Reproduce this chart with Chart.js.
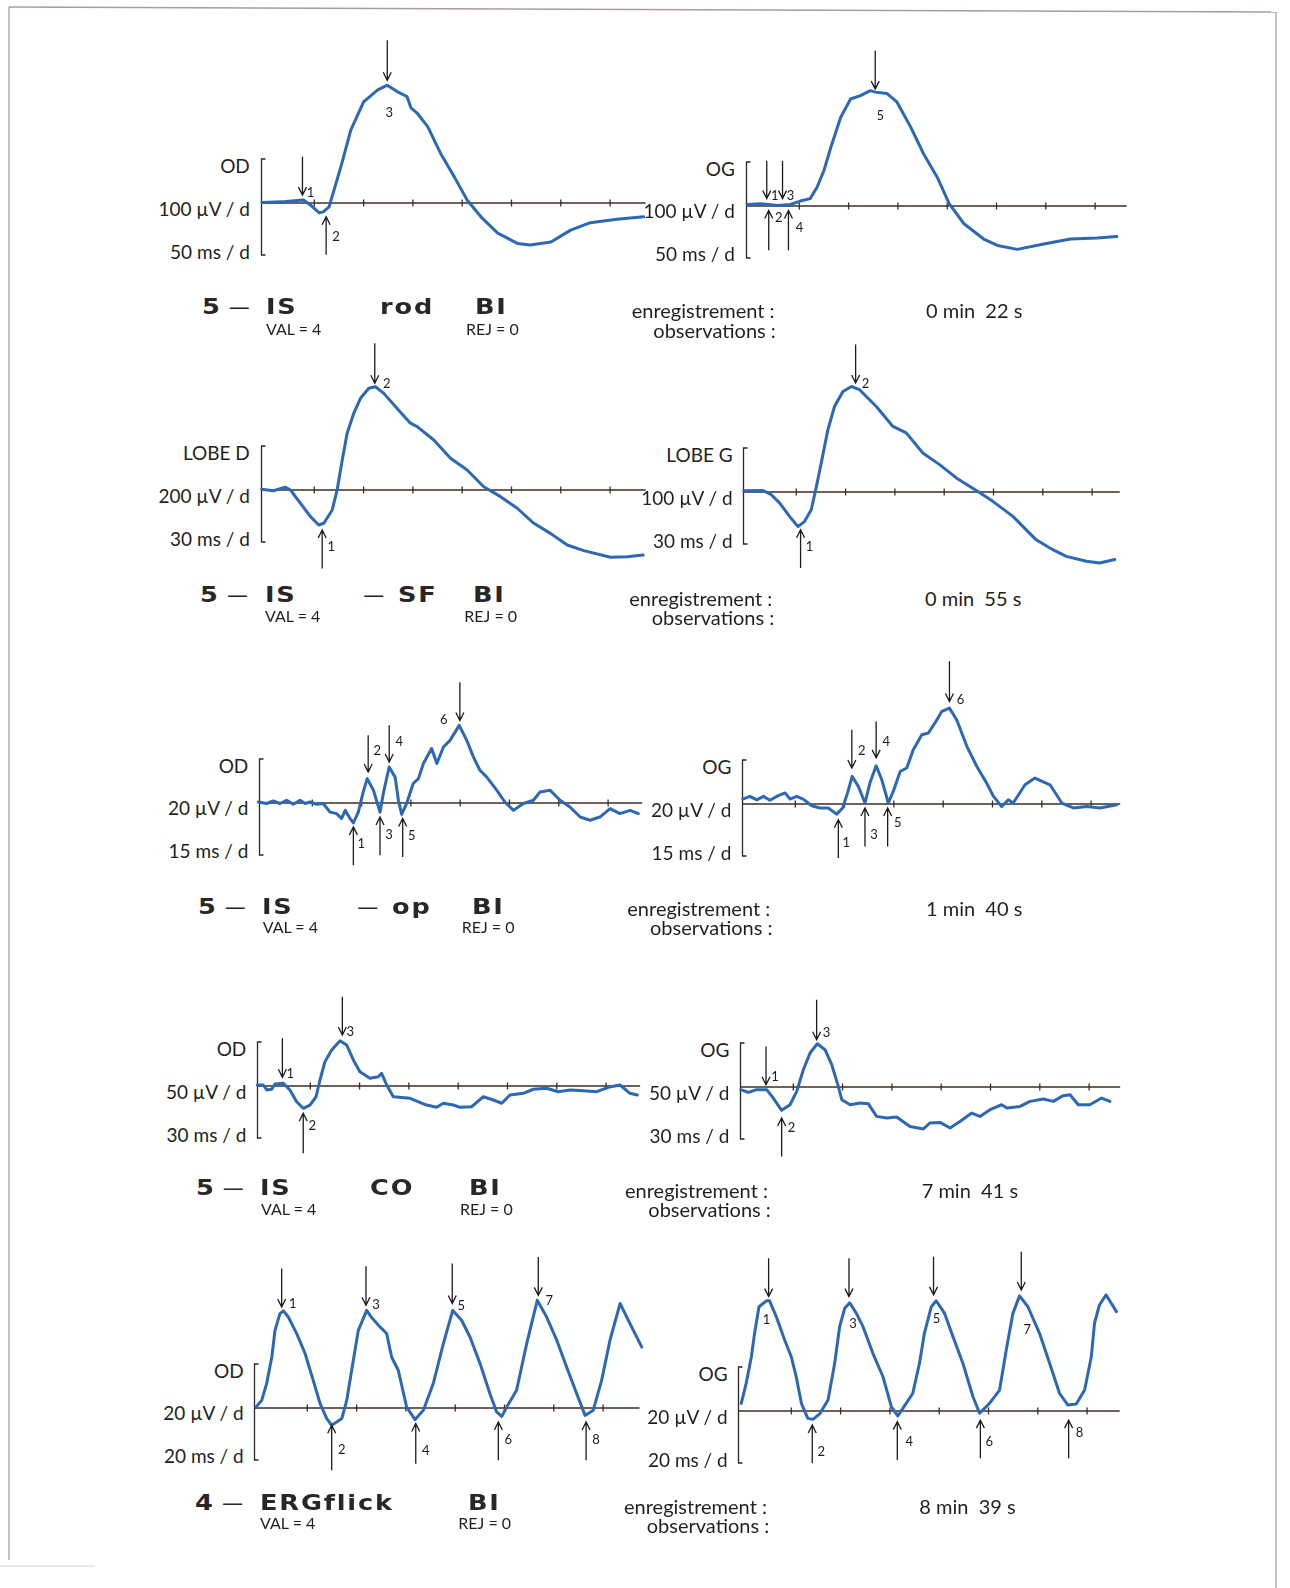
<!DOCTYPE html>
<html lang="fr">
<head>
<meta charset="utf-8">
<title>ERG — protocole IS</title>
<script src="https://cdn.jsdelivr.net/npm/chart.js@4.4.1/dist/chart.umd.min.js"></script>
<style>
  html, body { margin: 0; padding: 0; background: #fff; }
  body { width: 1290px; height: 1588px; position: relative; overflow: hidden;
         font-family: Lato, "Open Sans", sans-serif; color: #231f20; }
  canvas.trace { position: absolute; }
  .t { position: absolute; white-space: pre; line-height: 1; transform: translateY(-50%); }
  .scale { font-size: 19px; }
  .big { font-family: "DejaVu Sans", sans-serif; font-weight: bold; font-size: 21px; letter-spacing: 1.5px;
         color: #2a2626; transform: translateY(-50%) scaleX(1.22); transform-origin: left center; }
  .dash { font-family: "DejaVu Sans", sans-serif; font-size: 21px; color: #2a2626; }
  .small { font-size: 16px; }
  .rec { font-size: 20px; }
</style>
</head>
<body>
<svg width="1290" height="1588" style="position:absolute;left:0;top:0">
  <line x1="9" y1="7" x2="1276" y2="12" stroke="#a89aa8" stroke-width="1.5"/>
  <line x1="9" y1="7" x2="9" y2="1560" stroke="#8a8a8a" stroke-width="1"/>
  <line x1="1276" y1="12" x2="1276" y2="1588" stroke="#97a097" stroke-width="1.2"/>
  <line x1="0" y1="1566" x2="95" y2="1566" stroke="#cfcfcf" stroke-width="1"/>
</svg>
<script>
// ---------- Recording conditions (row by row: right eye, left eye) ----------
const traceEyes   = ['OD', 'OG', 'LOBE D', 'LOBE G', 'OD', 'OG', 'OD', 'OG', 'OD', 'OG'];
const voltsPerDiv = [100, 100, 200, 100, 20, 20, 50, 50, 20, 20];   // µV per division
const timePerDiv  = [50, 50, 30, 30, 15, 15, 30, 30, 20, 20];       // ms per division

// ---------- Protocol captions, one per row ----------
const protocolNo   = ['5', '5', '5', '5', '4'];
const protocolName = ['IS', 'IS', 'IS', 'IS', 'ERGflick'];
const stimulusName = ['rod', '— SF', '— op', 'CO', ''];
const valCount     = [4, 4, 4, 4, 4];
const rejCount     = [0, 0, 0, 0, 0];
const recordTime   = ['0 min  22 s', '0 min  55 s', '1 min  40 s', '7 min  41 s', '8 min  39 s'];

// ---------- Traces: time (ms) and amplitude (µV) ----------
// Marks: [time ms, arrow tip µV, arrow tail µV, wave number]
const rodOdMs = [-3, 11, 21, 33, 39, 46, 55, 59, 65, 70, 78, 87, 100, 114, 124, 134, 144, 148, 154, 165, 178, 192, 205, 219, 236, 256, 269, 290, 310, 330, 357, 384];
const rodOdUv = [1, 2, 3, 5, 6, -4, -20, -18, -8, 26, 81, 148, 205, 229, 239, 226, 216, 193, 183, 155, 101, 53, 6, -28, -61, -82, -85, -79, -55, -40, -33, -28];
const rodOdMarks = [[38, 16, 94, 1], [62, -28, -105, 2], [124, 249, 330, 3]];

const rodOgMs = [-3, 11, 28, 41, 51, 61, 68, 75, 82, 92, 102, 112, 122, 127, 139, 149, 163, 176, 190, 202, 217, 237, 251, 271, 298, 325, 352, 372];
const rodOgUv = [3, 4.5, 1, 3, 10, 15, 38, 72, 119, 180, 217, 224, 234, 231, 228, 211, 160, 106, 58, 5, -36, -67, -80, -88, -77, -67, -65, -62];
const rodOgMarks = [[17, 15, 92, 1], [19, -9, -90, 2], [33, 15, 92, 3], [39, -9, -90, 4], [127, 237, 315, 5]];

const lobeDMs = [-2, 5, 12.5, 15.5, 21.6, 27.7, 32.7, 35.8, 40.9, 43.9, 47, 50, 54, 58.1, 63.2, 67.2, 72.3, 80.4, 88.5, 92.6, 102.7, 112.9, 123, 133.1, 143.3, 153.5, 163.6, 173.7, 183.9, 194, 210.2, 220.4, 230.1];
const lobeDUv = [3, -3, 11, 0, -54, -108, -142, -135, -81, 0, 122, 230, 311, 372, 413, 419, 392, 331, 271, 257, 203, 129, 81, 13, -27, -74, -135, -176, -223, -246, -273, -271, -264];
const lobeDMarks = [[34.8, -162, -318, 1], [66.8, 433, 595, 2]];

const lobeGMs = [-2, 9.7, 14.8, 19.8, 25.9, 31, 35, 39.1, 42.2, 45.2, 49.2, 53.3, 58.4, 63.5, 68.5, 78.7, 88.8, 96.9, 107, 117.2, 127.4, 140.5, 149.6, 161.8, 176, 186.1, 194.3, 206.5, 214.6, 223.8];
const lobeGUv = [2.6, 3, -5.5, -22, -49.5, -70, -60, -36, 11, 59, 126, 174, 204, 214, 207.5, 173.5, 133, 120, 79, 55.5, 28.5, 1, -19, -49.5, -97, -117, -130.5, -140.5, -144, -137];
const lobeGMarks = [[32.6, -76.5, -154, 1], [66.1, 221, 299, 2]];

const opOdMs = [-1.4, 1.1, 3.1, 5.2, 7.2, 9.2, 11.3, 12.8, 14.3, 16.3, 18.3, 20.4, 22.4, 23.9, 25, 26.5, 27.5, 29, 30.5, 31.7, 33.6, 35.6, 36.6, 37.6, 38.4, 40.2, 41.2, 42.2, 43.7, 45.7, 47.3, 48.8, 51.3, 52.9, 54.9, 56.9, 59.7, 62, 64, 66, 68.1, 71.1, 73.6, 76.2, 79.2, 82.3, 84.3, 87.3, 90.4, 93.4, 96.5, 99.5, 102.5, 105.6, 108.6, 111.7, 114.2];
const opOdUv = [0.4, -0.2, 0.8, -0.2, 1.1, -0.5, 1.1, -0.2, 0.4, -0.5, -0.2, -3.7, -4.3, -6.3, -3, -6.3, -8.1, -3.7, 4.5, 9.9, 5.2, -3.7, 3.8, 9.9, 14.6, 10.5, 1.1, -4.6, -0.2, 7.9, 9.9, 16, 22.1, 16, 22.7, 25.4, 31.5, 25.4, 18.7, 13.3, 10.5, 5.2, 0.4, -3, -0.2, 1.1, 4.5, 5.2, 1.1, -1.6, -5.7, -7, -5.7, -2.3, -4.3, -3, -4.3];
const opOdMarks = [[27.5, -9.7, -25.3, 1], [32, 12.6, 27.5, 2], [35.6, -5.7, -21.2, 3], [38.4, 16.6, 31.5, 4], [42.5, -6.3, -21.9, 5], [59.9, 33.5, 49, 6]];

const opOgMs = [-1, 1.2, 3.3, 5.3, 7.3, 9.8, 11.9, 13.4, 15.4, 17.4, 20, 22.5, 25, 27.6, 29.4, 30.9, 32.3, 34.2, 36.2, 37.7, 39.6, 41.3, 43.3, 44.8, 46.9, 48.9, 50.9, 53.5, 55.5, 57.5, 59.6, 61.9, 64.1, 67.2, 70.2, 73.2, 75.3, 77.8, 79.8, 81.3, 84.9, 87.9, 92.5, 96.1, 99.6, 103.7, 107.7, 112.8];
const opOgUv = [2, 3.1, 1.7, 3.1, 1.5, 3.4, 4.5, 2, 3.1, 2, -0.7, -1.6, -1.6, -4.1, -1.6, 4.5, 11.2, 7.1, 0.4, 8.5, 15.5, 9.9, 0.4, 5.1, 13.2, 14.6, 22, 28.1, 28.8, 32.9, 37.6, 38.9, 34.2, 23.4, 15.3, 8.5, 3.1, -1, 1.7, 0.4, 7.8, 10.5, 7.8, 0.4, -1.6, -1, -1.6, -0.3];
const opOgMarks = [[28.1, -6.4, -21.9, 1], [32.2, 14.6, 30.1, 2], [36.2, -1.6, -17.2, 3], [39.6, 18.7, 33.5, 4], [43.1, -1.6, -17.2, 5], [61.9, 41.6, 57.9, 6]];

const coOdMs = [-2.3, 1.4, 3.5, 6.5, 8.5, 13.6, 17.6, 21.7, 25.7, 29.8, 33.5, 35.9, 38.9, 43, 48.1, 52.1, 56.2, 60.2, 66.3, 71.4, 73.4, 76.5, 80.5, 90.7, 100.8, 106.9, 110.9, 117, 121.1, 128.2, 135.3, 141.4, 146.5, 151.5, 159.6, 165.7, 173.8, 180.9, 188, 196.1, 204.3, 211.3, 218.5, 224.5, 229];
const coOdUv = [1, 1, -4, -3.3, 2, 2.7, -4, -16, -22.6, -19.3, -10.9, 6.1, 24.6, 36.5, 45.9, 41.6, 26.4, 14.5, 7.8, 9.4, 12.9, 1, -10.9, -12.5, -19.3, -21.6, -17.5, -19.3, -21.6, -21, -10.9, -14.2, -17.5, -9.1, -7.4, -3.3, -2.3, -5.8, -4.1, -4.8, -5.8, -1.3, 1, -7.4, -9.1];
const coOdMarks = [[13, 8.8, 48.4, 1], [25.7, -27.7, -68.3, 2], [49.5, 51.7, 90.6, 3]];

const coOgMs = [-2, 2.6, 7.7, 13.8, 17.8, 22.9, 28, 32.1, 36.1, 40.2, 44.6, 49.3, 53.4, 57.4, 59.5, 64.6, 70.6, 75.6, 80.7, 86.8, 92.9, 101, 109.1, 113.2, 119.3, 125.4, 131.4, 138.6, 143.6, 149.7, 156.8, 159.9, 168, 174, 182.1, 188.2, 194.3, 198.4, 203.4, 210.5, 217.6, 222.7];
const coOgUv = [-2.7, -5.5, -2.7, -2.7, -11.2, -23.7, -18, -4.5, 17.5, 34.5, 43.9, 37.8, 22.6, 0.6, -12.9, -18, -16.2, -16.9, -29.8, -31.4, -30.4, -40, -42.6, -36.5, -35.9, -41.6, -34.9, -26.4, -29.8, -23, -18, -21.3, -19.7, -14.6, -12.2, -14.6, -8.8, -7.8, -18, -18, -11.2, -14.6];
const coOgMarks = [[13.4, 2.3, 41.2, 1], [22.9, -31.4, -70.4, 2], [44.2, 48, 88.5, 3]];

const flickOdMs = [-0.8, 1.5, 3.5, 5.6, 6.9, 8.9, 10.3, 12.3, 15.7, 19.1, 22.4, 25.2, 27.9, 29.9, 31.9, 34, 36, 38, 40.7, 44.1, 46.1, 49.5, 52.2, 54.2, 56.9, 60.3, 63.7, 67.1, 71.1, 75.2, 79, 82.6, 86, 90.1, 94.1, 96.8, 98.9, 100.9, 104.9, 109, 113.3, 117.1, 121.2, 125.2, 129.3, 132.7, 136, 139.4, 142.8, 146.9, 150.9, 155.7];
const flickOdUv = [0.4, 3.1, 9.9, 20.7, 31.5, 38.3, 39.4, 36.9, 30.2, 22.1, 11.2, 1.8, -4.3, -7, -5.7, -4.3, 3.1, 15.3, 31.5, 39.6, 36.7, 32.9, 30.2, 20.7, 15.3, 0.4, -4.7, -0.9, 9.9, 26.1, 39.6, 35.6, 28.8, 18, 5.8, -1.6, -3.4, 0.4, 7.2, 26.1, 43.7, 36.9, 27.5, 16.6, 5.8, -3, -0.9, 11.2, 27.5, 42.4, 34.2, 24.7];
const flickOdMarks = [[9.6, 41, 56.6, 1], [29.9, -7, -25.3, 2], [43.8, 41.7, 57.5, 3], [64, -6.3, -22.6, 4], [78.8, 42.4, 58.6, 5], [97.5, -5.7, -21.2, 6], [113.7, 45.7, 61.3, 7], [133.1, -5.7, -21.2, 8]];

const flickOgMs = [-0.3, 1.7, 3.8, 5.1, 6.9, 9.9, 11.2, 13.9, 17.3, 20, 22, 24.1, 26.7, 28.8, 31.5, 34.9, 37.6, 39.6, 41.7, 43.7, 46.4, 49.1, 53.1, 57.2, 60.6, 63.2, 66.6, 69.3, 72, 74, 76.8, 78.8, 82.2, 85.6, 89.6, 93.7, 96.4, 100.4, 104.5, 107.2, 109.9, 112.6, 116, 120.7, 124.8, 128.8, 132.2, 135.6, 139, 141.7, 143, 145, 147.7, 149.8, 151.9];
const flickOgUv = [3.1, 11.2, 22, 31.5, 42.3, 44.7, 44.7, 38.3, 28.8, 22, 13.9, 3.1, -3, -3.4, -1.2, 4.5, 19.4, 34.2, 41.7, 43.9, 39.6, 34.2, 23.4, 13.9, 1.7, -2, 3.1, 7.2, 19.4, 31.5, 42.3, 44.7, 39.6, 30.1, 19.4, 5.8, -0.9, 3.1, 8.5, 24.7, 39.6, 46.7, 42.3, 31.5, 19.4, 7.2, 2.4, 2.8, 8.5, 22, 35.6, 43, 47.1, 43.7, 40.3];
const flickOgMarks = [[10.8, 46.4, 62, 1], [28.5, -5.7, -21.2, 2], [43.4, 46.4, 62, 3], [63, -4.3, -19.9, 4], [77.7, 47.1, 62.6, 5], [96.7, -3.7, -19.2, 6], [113.3, 49.1, 64.6, 7], [132.5, -3.7, -19.2, 8]];

const traces = [
  [rodOdMs, rodOdUv, rodOdMarks], [rodOgMs, rodOgUv, rodOgMarks],
  [lobeDMs, lobeDUv, lobeDMarks], [lobeGMs, lobeGUv, lobeGMarks],
  [opOdMs, opOdUv, opOdMarks],    [opOgMs, opOgUv, opOgMarks],
  [coOdMs, coOdUv, coOdMarks],    [coOgMs, coOgUv, coOgMarks],
  [flickOdMs, flickOdUv, flickOdMarks], [flickOgMs, flickOgUv, flickOgMarks]
];

// ---------- Page layout (pixels) ----------
const PX_PER_DIV = 49.3;
const PAD_L = 14, PAD_T = 185, CV_W = 404, CV_H = 275;
const TRACE_BLUE = '#2d68b2';
const INK = '#1f1b1b';
// origin of each graph (t = 0, 0 µV), axis length in divisions, numeral offsets from arrow tips
const panelLayout = [
  { x0: 264.5, y0: 203,    len: 7.72, off: [[8, -2], [10, 20], [2, 33]] },
  { x0: 749.5, y0: 205.5,  len: 7.64, off: [[8, -3], [10, 7], [8, -3], [11, 17], [5, 27]] },
  { x0: 264.5, y0: 490,    len: 7.72, off: [[9, 17], [12, 1]] },
  { x0: 747.4, y0: 492.3,  len: 7.56, off: [[9, 17], [10, 1]] },
  { x0: 263,   y0: 802.7,  len: 7.69, off: [[8, 17], [9, -21], [9, 18], [10, -20], [9, 17], [-16, -1]] },
  { x0: 746,   y0: 804.3,  len: 7.59, off: [[8, 23], [10, -17], [9, 27], [10, -16], [10, 15], [11, -2]] },
  { x0: 261,   y0: 1086,   len: 7.69, off: [[8, -4], [9, 13], [8, -3]] },
  { x0: 744,   y0: 1087.3, len: 7.63, off: [[9, -8], [10, 10], [10, -7]] },
  { x0: 258.4, y0: 1407.7, len: 7.74, off: [[11, -3], [10, 25], [10, 0], [10, 27], [9, 2], [10, 18], [11, 5], [10, 18]] },
  { x0: 742.4, y0: 1411,   len: 7.66, off: [[-2, 23], [9, 27], [4, 27], [12, 20], [3, 24], [9, 22], [6, 40], [11, 13]] }
];
// caption block of each row
const captionLayout = [
  { num: 201.7, stim: 380,   bi: 475,   val: 266,   rej: 466,   enr: 631.7, obs: 653.3, time: 926,   yBig: 306.7,  ySmall: 329,    yEnr: 310,    yObs: 330 },
  { num: 200,   stim: 363.3, bi: 473.3, val: 265,   rej: 464.3, enr: 629.3, obs: 651.7, time: 925,   yBig: 595,    ySmall: 616,    yEnr: 598.3,  yObs: 617.3 },
  { num: 197.7, stim: 357.3, bi: 471.7, val: 262.7, rej: 461.7, enr: 627.3, obs: 650,   time: 926,   yBig: 906.7,  ySmall: 926.7,  yEnr: 908.3,  yObs: 927.3 },
  { num: 195.7, stim: 370,   bi: 469.3, val: 261,   rej: 460,   enr: 625,   obs: 648.3, time: 921.7, yBig: 1188.3, ySmall: 1209.3, yEnr: 1190,   yObs: 1209.3 },
  { num: 195,   stim: 0,     bi: 468.3, val: 260,   rej: 458.3, enr: 624,   obs: 646.7, time: 919.3, yBig: 1503.3, ySmall: 1523.3, yEnr: 1506,   yObs: 1525 }
];

function addText(str, cls, x, cy, alignRight) {
  const d = document.createElement('div');
  d.className = 't ' + cls;
  d.textContent = str;
  if (alignRight) d.style.right = (1290 - x) + 'px';
  else d.style.left = x + 'px';
  d.style.top = cy + 'px';
  document.body.appendChild(d);
}

// Baseline with division ticks, calibration bracket, and latency arrows
function ergPlugin(lay, marks) {
  return {
    id: 'ergMarks',
    beforeDatasetsDraw(chart) {
      const { ctx, scales: { x, y } } = chart;
      const y0 = y.getPixelForValue(0);
      const ox = x.getPixelForValue(0);
      const div = chart.options.ergDiv;
      const bx = ox - 3.5;
      ctx.save();
      // baseline
      ctx.strokeStyle = '#3e2b24';
      ctx.lineWidth = 1.5;
      ctx.beginPath();
      ctx.moveTo(bx, y0);
      ctx.lineTo(x.getPixelForValue(lay.len * div), y0);
      ctx.stroke();
      // division ticks
      ctx.lineWidth = 1.3;
      for (let k = 1; k <= 7; k++) {
        const tx = x.getPixelForValue(k * div);
        ctx.beginPath();
        ctx.moveTo(tx, y0 - 3.5);
        ctx.lineTo(tx, y0 + 3.5);
        ctx.stroke();
      }
      // calibration bracket
      ctx.strokeStyle = '#2b2727';
      ctx.lineWidth = 1.3;
      ctx.beginPath();
      ctx.moveTo(bx + 4, y0 - 44);
      ctx.lineTo(bx, y0 - 44);
      ctx.lineTo(bx, y0 + 52);
      ctx.lineTo(bx + 4, y0 + 52);
      ctx.stroke();
      ctx.restore();
    },
    afterDatasetsDraw(chart) {
      const { ctx, scales: { x, y } } = chart;
      ctx.save();
      ctx.strokeStyle = INK;
      ctx.fillStyle = INK;
      ctx.lineWidth = 1.3;
      ctx.font = '13px Lato, sans-serif';
      ctx.textAlign = 'center';
      ctx.textBaseline = 'middle';
      marks.forEach((m, i) => {
        const [t, tip, tail, n] = m;
        const ax = x.getPixelForValue(t);
        const ty = y.getPixelForValue(tip);
        const ly = y.getPixelForValue(tail);
        const dir = ty > ly ? 1 : -1;
        ctx.beginPath();
        ctx.moveTo(ax, ly);
        ctx.lineTo(ax, ty);
        ctx.moveTo(ax - 4, ty - dir * 8);
        ctx.lineTo(ax, ty);
        ctx.lineTo(ax + 4, ty - dir * 8);
        ctx.stroke();
        const o = lay.off[i] || [8, 0];
        ctx.fillText(String(n), ax + o[0], ty + o[1]);
      });
      ctx.restore();
    }
  };
}

traces.forEach(([ms, uv, marks], i) => {
  const lay = panelLayout[i];
  const tDiv = timePerDiv[i], vDiv = voltsPerDiv[i];
  const cv = document.createElement('canvas');
  cv.className = 'trace';
  cv.width = CV_W; cv.height = CV_H;
  cv.style.left = (lay.x0 - PAD_L) + 'px';
  cv.style.top = (lay.y0 - PAD_T) + 'px';
  document.body.appendChild(cv);

  const n = Math.min(ms.length, uv.length);
  const pts = [];
  for (let k = 0; k < n; k++) pts.push({ x: ms[k], y: uv[k] });

  new Chart(cv, {
    type: 'line',
    data: { datasets: [{ data: pts, borderColor: TRACE_BLUE, borderWidth: 3, pointRadius: 0,
                         tension: 0, fill: false, borderJoinStyle: 'round', borderCapStyle: 'round' }] },
    options: {
      responsive: false, animation: false, devicePixelRatio: 1, events: [],
      ergDiv: tDiv,
      layout: { padding: 0 },
      plugins: { legend: { display: false }, tooltip: { enabled: false } },
      scales: {
        x: { type: 'linear', display: false, min: -PAD_L / PX_PER_DIV * tDiv, max: (CV_W - PAD_L) / PX_PER_DIV * tDiv },
        y: { type: 'linear', display: false, min: -(CV_H - PAD_T) / PX_PER_DIV * vDiv, max: PAD_T / PX_PER_DIV * vDiv }
      }
    },
    plugins: [ergPlugin(lay, marks)]
  });

  // eye and calibration labels left of the bracket
  const rx = lay.x0 - 14.7;
  addText(traceEyes[i], 'scale', rx, lay.y0 - 38, true);
  addText(vDiv + ' µV / d', 'scale', rx, lay.y0 + 4.5, true);
  addText(tDiv + ' ms / d', 'scale', rx, lay.y0 + 47.5, true);
});

// protocol captions under each row
captionLayout.forEach((c, r) => {
  addText(protocolNo[r], 'big', c.num, c.yBig);
  addText('—', 'dash', c.num + 27, c.yBig);
  addText(protocolName[r], 'big', c.num + 64.5, c.yBig);
  if (stimulusName[r]) {
    if (stimulusName[r].startsWith('—')) {
      addText('—', 'dash', c.stim, c.yBig);
      addText(stimulusName[r].slice(2), 'big', c.stim + 34.5, c.yBig);
    } else {
      addText(stimulusName[r], 'big', c.stim, c.yBig);
    }
  }
  addText('BI', 'big', c.bi, c.yBig);
  addText('VAL = ' + valCount[r], 'small', c.val, c.ySmall);
  addText('REJ = ' + rejCount[r], 'small', c.rej, c.ySmall);
  addText('enregistrement :', 'rec', c.enr, c.yEnr);
  addText('observations :', 'rec', c.obs, c.yObs);
  addText(recordTime[r], 'rec', c.time, c.yEnr);
});
</script>
</body>
</html>
